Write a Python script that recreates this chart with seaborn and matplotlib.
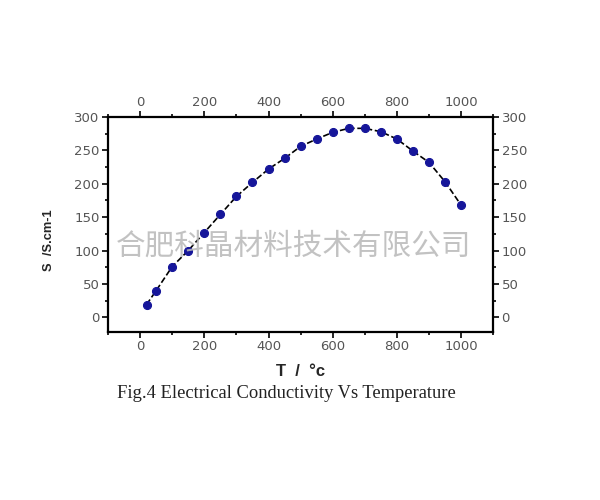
import matplotlib
matplotlib.use('Agg')
import matplotlib.pyplot as plt
from matplotlib.ticker import MultipleLocator
import seaborn as sns
import pandas as pd

# Veri: sıcaklık (°C) ve elektriksel iletkenlik (S/cm)
sicaklik = [20, 50, 100, 150, 200, 250, 300, 350, 400, 450, 500,
            550, 600, 650, 700, 750, 800, 850, 900, 950, 1000]
iletkenlik = [19, 40, 76, 100, 127, 154, 181, 202, 222, 238, 256,
              267, 277, 283, 283, 278, 267, 249, 232, 203, 168]

df = pd.DataFrame({'T': sicaklik, 'S': iletkenlik})

sns.set_style('ticks')
plt.rcParams['font.family'] = ['DejaVu Sans']

fig = plt.figure(figsize=(6, 5), dpi=100)
ax = fig.add_axes([0.18, 0.336, 0.642, 0.43])

sns.lineplot(data=df, x='T', y='S', ax=ax, color='black', linestyle='--',
             linewidth=1.2, marker='o', markersize=5.8,
             markerfacecolor='#16169a', markeredgecolor='#16169a')

ax.set_xlim(-100, 1100)
ax.set_ylim(-22, 300)
ax.xaxis.set_major_locator(MultipleLocator(200))
ax.xaxis.set_minor_locator(MultipleLocator(100))
ax.yaxis.set_major_locator(MultipleLocator(50))
ax.yaxis.set_minor_locator(MultipleLocator(25))

for s in ax.spines.values():
    s.set_linewidth(1.6)
    s.set_color('black')

ax.tick_params(which='both', direction='out', top=True, right=True,
               labeltop=True, labelright=True, width=1.4)
ax.tick_params(which='major', length=4, labelsize=9.5, labelcolor='#555555', pad=2)
ax.tick_params(which='minor', length=2.5)

ax.set_xlabel('T  /  °c', fontsize=12, fontweight='bold', labelpad=8,
              family=['Liberation Sans', 'DejaVu Sans'])
ax.set_ylabel('S  /S.cm-1', fontsize=9.3, fontweight='bold',
              family=['Liberation Sans', 'DejaVu Sans'])
ax.yaxis.set_label_coords(-0.137, 0.428)

# Şekil başlığı
fig.text(0.4775, 0.212, 'Fig.4 Electrical Conductivity Vs Temperature',
         ha='center', va='center', fontsize=13.3, color='#222222',
         family=['Liberation Serif', 'DejaVu Serif'])

# Filigran
fig.text(0.489, 0.508, '合肥科晶材料技术有限公司', ha='center', va='center',
         fontsize=21.3, color='#b8b8b8', alpha=0.85,
         family=['Noto Sans CJK SC', 'DejaVu Sans'], zorder=10)

fig.savefig('out.png', dpi=100, facecolor='white')
